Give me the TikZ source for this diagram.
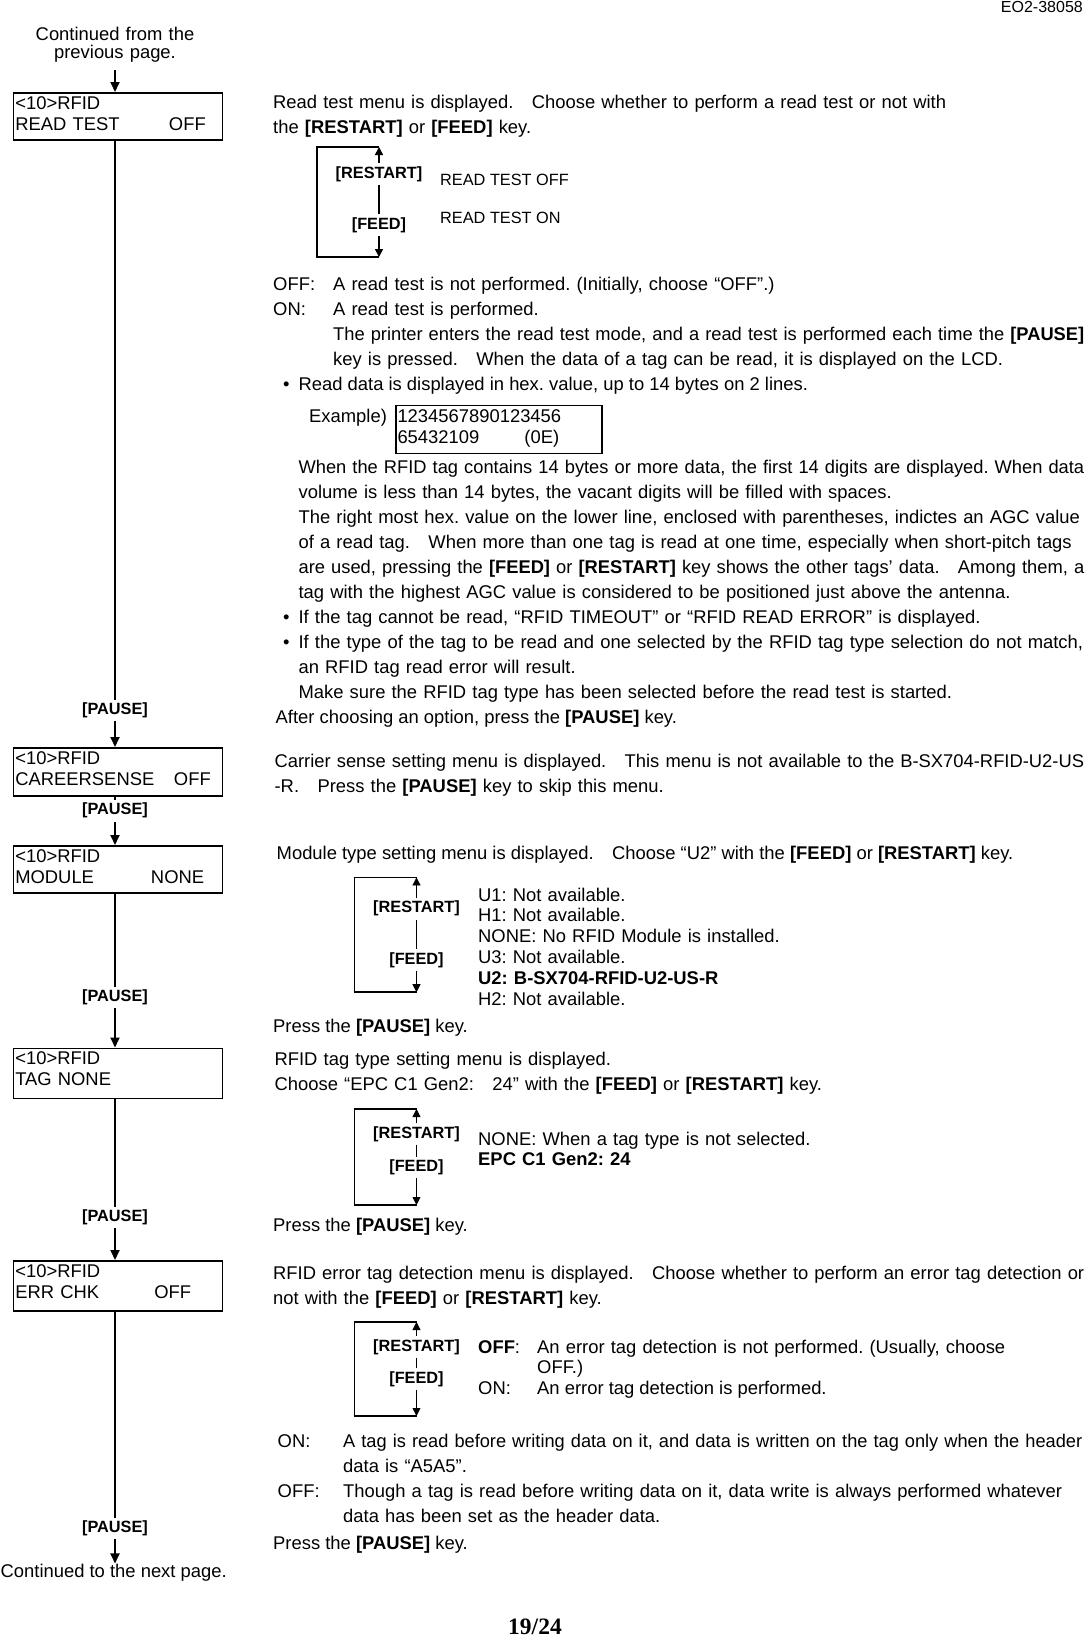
\documentclass[tikz,border=0pt]{standalone}
\usepackage{graphicx}
\usepackage{fontspec}
\setmainfont{Liberation Sans}
\newfontfamily\pagenofont{Liberation Serif}
\usetikzlibrary{arrows.meta, positioning}
\frenchspacing

\newcommand{\bodyfont}{\fontsize{18.4}{25}\selectfont}
\newcommand{\listfont}{\fontsize{18.4}{20.9}\selectfont}
\newcommand{\lcdfont}{\fontsize{18.4}{21}\selectfont}
\newcommand{\keyfont}{\fontsize{16.3}{19}\selectfont\bfseries}
\newcommand{\wsp}{\hspace{1em}}
\newcommand{\kb}[1]{\textbf{[#1]}}
% justified line of a given width (squeezed if too long)
\newsavebox\jlbox
\newcommand{\jl}[2]{\sbox\jlbox{#2}%
  \ifdim\wd\jlbox>#1\relax\resizebox{#1}{\ht\jlbox}{\usebox\jlbox}%
  \else\makebox[#1][s]{#2}\fi}

\begin{document}
\begin{tikzpicture}[x=1pt, y=-1pt,
    lcd/.style={draw, line width=1.6pt, anchor=north west, inner xsep=2pt,
                inner ysep=0pt, text width=205pt, align=left, font=\lcdfont,
                text height=16.5pt, text depth=30.5pt},
    key/.style={font=\keyfont, inner xsep=1pt, inner ysep=3pt},
    txt/.style={anchor=base west, inner sep=0pt, align=left, font=\bodyfont},
    flow/.style={line width=1.8pt},
    flowarr/.style={flow, -{Triangle[length=10pt,width=9pt]}},
    keyarr/.style={-{Triangle[length=8pt,width=8pt]}},
    brk/.style={line width=1.6pt},
    thinbrk/.style={line width=0.8pt},
]
  \useasboundingbox (0,0) rectangle (1085,1636);

  % page header and footer
  \node[txt, anchor=base east, font=\fontsize{16}{19}\selectfont] (docno) at (1083,12.5) {EO2-38058};
  \node[anchor=base, inner sep=0pt, font={\pagenofont\fontsize{23.5}{28}\selectfont\bfseries}] (pageno) at (535,1634) {19/24};

  % left column: LCD menus
  \node[txt, anchor=base, inner ysep=8pt, text width=227pt, align=center, font=\fontsize{18.4}{18}\selectfont] (prev) at (115,40) {Continued from the\\previous page.};

  \node[lcd] (m1) at (12.5,92) {<10>RFID\\\makebox[153.7pt][l]{READ TEST}OFF};
  \node[lcd, text depth=31.5pt] (m2) at (12.5,747) {<10>RFID\\\makebox[158.7pt][l]{CAREERSENSE}OFF};
  \node[lcd] (m3) at (12.5,845) {<10>RFID\\\makebox[135.7pt][l]{MODULE}NONE};
  \node[lcd, text depth=33.5pt] (m4) at (12.5,1047.5) {<10>RFID\\TAG NONE};
  \node[lcd, text depth=33.5pt] (m5) at (12.5,1260) {<10>RFID\\\makebox[139pt][l]{ERR CHK}OFF};

  \node[key] (p1) at (115,710.5) {[PAUSE]};
  \node[key] (p2) at (115,810.7) {[PAUSE]};
  \node[key] (p3) at (115,997.4) {[PAUSE]};
  \node[key] (p4) at (115,1217.5) {[PAUSE]};
  \node[key] (p5) at (115,1528.4) {[PAUSE]};

  \node[txt, anchor=base] (next) at (113.7,1577) {Continued to the next page.};

  \draw[flowarr] (prev) -- (m1.north -| prev);
  \draw[flow] (m1.south -| p1) -- (p1);
  \draw[flowarr] (p1) -- (m2.north -| p1);
  \draw[flow] (m2.south -| p2) -- (p2);
  \draw[flowarr] (p2) -- (m3.north -| p2);
  \draw[flow] (m3.south -| p3) -- (p3);
  \draw[flowarr] (p3) -- (m4.north -| p3);
  \draw[flow] (m4.south -| p4) -- (p4);
  \draw[flowarr] (p4) -- (m5.north -| p4);
  \draw[flow] (m5.south -| p5) -- (p5);
  \draw[flowarr] (p5) -- (next.north -| p5);

  % READ TEST
  \node[txt, text width=811pt] (rt-intro) at (273,108) {Read test menu is displayed.\wsp Choose whether to perform a read test or not with\\
    the \kb{RESTART} or \kb{FEED} key.};

  \coordinate (rt-top) at (379,147);
  \coordinate (rt-bot) at (379,257);
  \node[key] (rt-up) at (379,174) {[RESTART]};
  \node[key] (rt-dn) at (379,225) {[FEED]};
  \draw[brk] (rt-top) -- ++(-62,0) |- (rt-bot);
  \draw[brk, keyarr] (rt-up) -- (rt-top);
  \draw[brk] (rt-up) -- (rt-dn);
  \draw[brk, keyarr] (rt-dn) -- (rt-bot);
  \node[txt, font=\fontsize{16.3}{19}\selectfont] (rt-off) at (440,185.5) {READ TEST OFF};
  \node[txt, font=\fontsize{16.3}{19}\selectfont] (rt-on) at (440,223) {READ TEST ON};

  \node[txt] (rt-offl) at (273,290) {OFF:};
  \node[txt] (rt-onl) at (273,315) {ON:};
  \node[txt, text width=751pt] (rt-desc) at (333,290) {A read test is not performed. (Initially, choose “OFF”.)\\
    A read test is performed.\\
    \jl{751pt}{The printer enters the read test mode, and a read test is performed each time the \kb{PAUSE}}\\
    key is pressed.\wsp When the data of a tag can be read, it is displayed on the LCD.};

  \node[txt] (bl1) at (283,390) {•};
  \node[txt] (rt-hex) at (298.4,390) {Read data is displayed in hex. value, up to 14 bytes on 2 lines.};
  \node[txt] (ex-lbl) at (309,422) {Example)};
  \node[lcd, line width=1.2pt, text width=203pt, inner xsep=1.5pt, text height=17pt, text depth=31pt, font=\bodyfont\fontsize{18.4}{21}\selectfont] (ex-box) at (395.4,405) {1234567890123456\\\makebox[127pt][l]{65432109}(0E)};

  \node[txt, text width=785.6pt] (rt-agc) at (298.4,473) {\jl{785.6pt}{When the RFID tag contains 14 bytes or more data, the first 14 digits are displayed. When data}\\
    volume is less than 14 bytes, the vacant digits will be filled with spaces.\\
    \jl{785.6pt}{The right most hex. value on the lower line, enclosed with parentheses, indictes an AGC value}\\
    \jl{785.6pt}{of a read tag.\wsp When more than one tag is read at one time, especially when short-pitch tags}\\
    \jl{785.6pt}{are used, pressing the \kb{FEED} or \kb{RESTART} key shows the other tags’ data.\wsp Among them, a}\\
    tag with the highest AGC value is considered to be positioned just above the antenna.\\
    If the tag cannot be read, “RFID TIMEOUT” or “RFID READ ERROR” is displayed.\\
    \jl{785.6pt}{If the type of the tag to be read and one selected by the RFID tag type selection do not match,}\\
    an RFID tag read error will result.\\
    Make sure the RFID tag type has been selected before the read test is started.};
  \node[txt] (bl2) at (283,623) {•};
  \node[txt] (bl3) at (283,648) {•};
  \node[txt] (rt-go) at (275.5,723) {After choosing an option, press the \kb{PAUSE} key.};

  % CAREERSENSE
  \node[txt, text width=809.6pt] (cs-intro) at (274.4,767.6) {\jl{809.6pt}{Carrier sense setting menu is displayed.\wsp This menu is not available to the B-SX704-RFID-U2-US}\\
    -R.\wsp Press the \kb{PAUSE} key to skip this menu.};

  % MODULE
  \node[txt] (mod-intro) at (276.5,859.4) {Module type setting menu is displayed.\wsp Choose “U2” with the \kb{FEED} or \kb{RESTART} key.};
  \coordinate (mod-top) at (416.5,877.4);
  \coordinate (mod-bot) at (416.5,992.2);
  \node[key] (mod-up) at (416.5,908.7) {[RESTART]};
  \node[key] (mod-dn) at (416.5,959.8) {[FEED]};
  \draw[brk] (mod-top) -- ++(-62,0) |- (mod-bot);
  \draw[thinbrk, keyarr] (mod-up) -- (mod-top);
  \draw[thinbrk] (mod-up) -- (mod-dn);
  \draw[thinbrk, keyarr] (mod-dn) -- (mod-bot);
  \node[txt, text width=500pt, font=\listfont] (mod-list) at (478,901) {U1: Not available.\\
    H1: Not available.\\
    NONE: No RFID Module is installed.\\
    U3: Not available.\\
    \textbf{U2: B-SX704-RFID-U2-US-R}\\
    H2: Not available.};
  \node[txt] (mod-go) at (273,1032.6) {Press the \kb{PAUSE} key.};

  % TAG
  \node[txt, text width=809pt] (tag-intro) at (274.4,1065) {RFID tag type setting menu is displayed.\\
    Choose “EPC C1 Gen2:\wsp 24” with the \kb{FEED} or \kb{RESTART} key.};
  \coordinate (tag-top) at (416.5,1109);
  \coordinate (tag-bot) at (416.5,1205);
  \node[key] (tag-up) at (416.5,1134) {[RESTART]};
  \node[key] (tag-dn) at (416.5,1167.5) {[FEED]};
  \draw[brk] (tag-top) -- ++(-62,0) |- (tag-bot);
  \draw[thinbrk, keyarr] (tag-up) -- (tag-top);
  \draw[thinbrk] (tag-up) -- (tag-dn);
  \draw[thinbrk, keyarr] (tag-dn) -- (tag-bot);
  \node[txt, text width=500pt, font=\listfont] (tag-list) at (478,1145) {NONE: When a tag type is not selected.\\
    \textbf{EPC C1 Gen2: 24}};
  \node[txt] (tag-go) at (273,1231) {Press the \kb{PAUSE} key.};

  % ERR CHK
  \node[txt, text width=811pt] (err-intro) at (273,1279) {\jl{811pt}{RFID error tag detection menu is displayed.\wsp Choose whether to perform an error tag detection or}\\
    not with the \kb{FEED} or \kb{RESTART} key.};
  \coordinate (err-top) at (416.5,1322);
  \coordinate (err-bot) at (416.5,1416);
  \node[key] (err-up) at (416.5,1347) {[RESTART]};
  \node[key] (err-dn) at (416.5,1379) {[FEED]};
  \draw[brk] (err-top) -- ++(-62,0) |- (err-bot);
  \draw[thinbrk, keyarr] (err-up) -- (err-top);
  \draw[thinbrk] (err-up) -- (err-dn);
  \draw[thinbrk, keyarr] (err-dn) -- (err-bot);
  \node[txt, font=\listfont] (err-offl) at (478,1353) {\textbf{OFF}:};
  \node[txt, text width=540pt, font=\listfont] (err-offt) at (537,1353) {An error tag detection is not performed. (Usually, choose\\
    OFF.)};
  \node[txt, font=\listfont] (err-onl) at (478,1394.6) {ON:};
  \node[txt, font=\listfont] (err-ont) at (537,1394.6) {An error tag detection is performed.};

  \node[txt] (hd-onl) at (277.5,1447) {ON:};
  \node[txt, text width=739pt] (hd-ont) at (343,1447) {\jl{739pt}{A tag is read before writing data on it, and data is written on the tag only when the header}\\
    data is “A5A5”.};
  \node[txt] (hd-offl) at (277.5,1497) {OFF:};
  \node[txt, text width=739pt] (hd-offt) at (343,1497) {Though a tag is read before writing data on it, data write is always performed whatever\\
    data has been set as the header data.};
  \node[txt] (err-go) at (273,1549) {Press the \kb{PAUSE} key.};
\end{tikzpicture}
\end{document}
